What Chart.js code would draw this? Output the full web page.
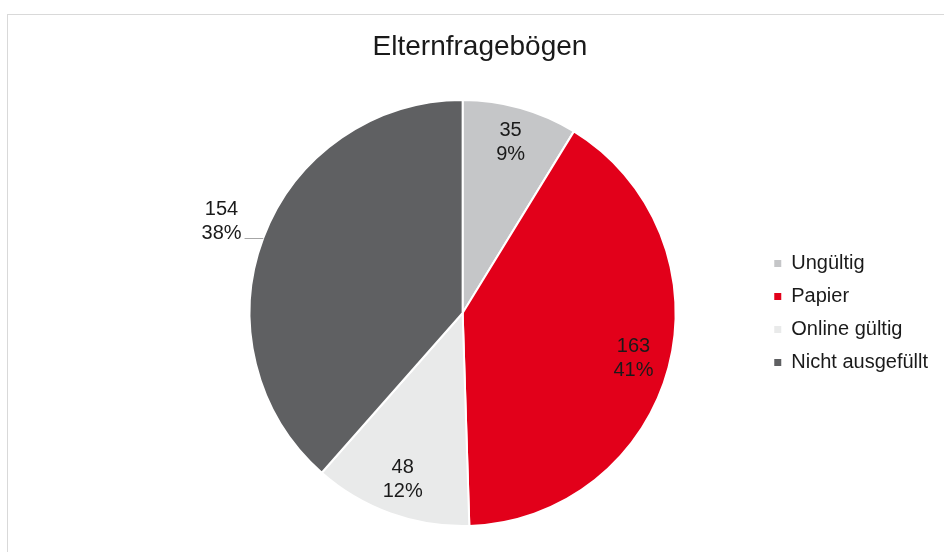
<!DOCTYPE html>
<html>
<head>
<meta charset="utf-8">
<script src="https://cdn.jsdelivr.net/npm/chart.js@4/dist/chart.umd.min.js"></script>
<style>
  html, body { margin: 0; padding: 0; background: #fff; overflow: hidden; }
  #frame { position: absolute; left: 7px; top: 14px; width: 1200px; height: 1200px; border: 1px solid #d9d9d9; box-sizing: border-box; }
  #wrap { position: absolute; left: 0; top: 0; width: 944px; height: 552px; }
</style>
</head>
<body>
<div id="frame"></div>
<div id="wrap"><canvas id="c" width="944" height="552"></canvas></div>
<script>
const chartTitle = 'Elternfragebögen';
const categories = ['Ungültig', 'Papier', 'Online gültig', 'Nicht ausgefüllt'];
const counts = [35, 163, 48, 154];
const percentLabels = ['9%', '41%', '12%', '38%'];
const sliceColors = ['#c5c6c8', '#e2001a', '#e9eaea', '#5f6062'];

const FONT = '"Liberation Sans", Arial, sans-serif';

// Title centred on the whole chart frame (which runs past the right edge of the window)
const titlePlugin = {
  id: 'frameTitle',
  afterDraw(chart) {
    const ctx = chart.ctx;
    ctx.save();
    ctx.font = '28px ' + FONT;
    ctx.fillStyle = '#1a1a1a';
    ctx.textAlign = 'center';
    ctx.textBaseline = 'middle';
    ctx.fillText(chartTitle, chart.width / 2 + 8, 47);
    ctx.restore();
  }
};

const labelPlugin = {
  id: 'sliceLabels',
  afterDatasetsDraw(chart) {
    const ctx = chart.ctx;
    const meta = chart.getDatasetMeta(0);
    ctx.save();
    ctx.font = '20px ' + FONT;
    ctx.fillStyle = '#1a1a1a';
    ctx.textAlign = 'center';
    ctx.textBaseline = 'middle';
    const lh = 24;
    meta.data.forEach((arc, i) => {
      const p = arc.getProps(['x', 'y', 'startAngle', 'endAngle', 'outerRadius'], true);
      const mid = (p.startAngle + p.endAngle) / 2;
      const outside = i === 3;
      const f = outside ? 1.21 : 0.83;
      const ax = p.x + Math.cos(mid) * p.outerRadius * f;
      const ay = p.y + Math.sin(mid) * p.outerRadius * f;
      const l1 = String(counts[i]);
      const l2 = percentLabels[i];
      ctx.fillText(l1, ax, ay - lh / 2);
      ctx.fillText(l2, ax, ay + lh / 2);
      if (outside) {
        const w = ctx.measureText(l2).width;
        const ly = ay + lh / 2 + 4;
        const x0 = ax + w / 2 + 3;
        const dy = ly - p.y;
        const x1 = p.x - Math.sqrt(Math.max(p.outerRadius * p.outerRadius - dy * dy, 0));
        ctx.strokeStyle = '#a6a6a6';
        ctx.lineWidth = 1;
        ctx.beginPath();
        ctx.moveTo(x0, Math.round(ly) + 0.5);
        ctx.lineTo(x1, Math.round(ly) + 0.5);
        ctx.stroke();
      }
    });
    ctx.restore();
  }
};

new Chart(document.getElementById('c'), {
  type: 'pie',
  data: {
    labels: categories,
    datasets: [{
      data: counts,
      backgroundColor: sliceColors,
      borderColor: '#ffffff',
      borderWidth: 2
    }]
  },
  options: {
    responsive: false,
    animation: false,
    layout: { padding: { left: 164, right: 6, top: 99, bottom: 25 } },
    plugins: {
      title: { display: false },
      legend: {
        position: 'right',
        align: 'center',
        fullSize: false,
        labels: {
          color: '#1a1a1a',
          font: { family: FONT, size: 20 },
          boxWidth: 7,
          boxHeight: 7,
          padding: 13,
          generateLabels(chart) {
            return Chart.overrides.pie.plugins.legend.labels.generateLabels(chart)
              .map(item => Object.assign(item, { lineWidth: 0 }));
          }
        }
      },
      tooltip: { enabled: false }
    }
  },
  plugins: [labelPlugin, titlePlugin]
});
</script>
</body>
</html>
